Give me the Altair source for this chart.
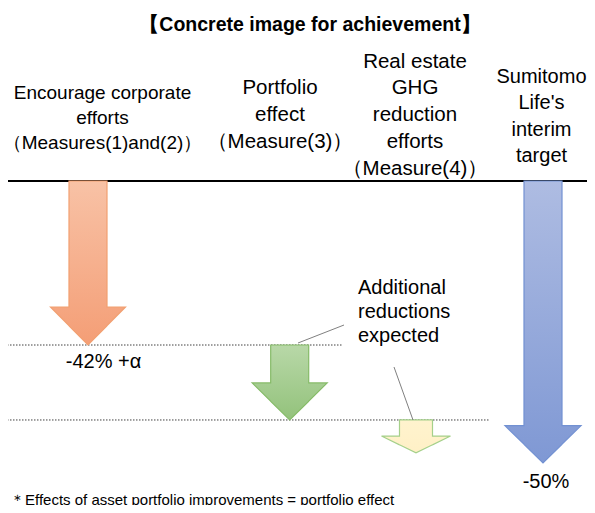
import altair as alt
import pandas as pd

# ---------------- data ----------------
title_text = "【Concrete image for achievement】"
header_lines = [
    ["Encourage corporate", "efforts", "（Measures(1)and(2)）"],
    ["Portfolio", "effect", "（Measure(3)）"],
    ["Real estate", "GHG", "reduction", "efforts", "（Measure(4)）"],
    ["Sumitomo", "Life's", "interim", "target"],
]
# arrow start / end levels (reduction, diagram units; the original is not drawn to scale)
arrow_start = [0, -42, -61.2, 0]
arrow_end = [-42, -61.2, -69.6, -72.2]
value_labels = ["-42% +α", "-50%"]
reference_levels = [-42, -61.2]
callout_lines_text = ["Additional", "reductions", "expected"]
footnote = "＊Effects of asset portfolio improvements = portfolio effect"

# ---------------- layout / style ----------------
W, H = 579, 497
PX_PER_UNIT = 164 / 42
Y_DOMAIN = [-(H - 173) / PX_PER_UNIT, 173 / PX_PER_UNIT]
FONT = "Liberation Sans"
EPS = 0.01

arrow_cx = [80, 281.7, 408, 535]
arrow_shaft_half = [19, 19, 16.5, 19]
arrow_head_half = [37.5, 37.5, 34.5, 38]
arrow_head_px = [38, 37, 16.7, 37.3]
arrow_fill = [("#F8C2A6", "#F49E76"), ("#B8D8A8", "#93C27B"),
              ("#FFF3CE", "#FFF0C6"), ("#AEBCE2", "#7F98D4")]
arrow_stroke = ["#F2A071", "#86BB68", "#A5D08A", "#7291D2"]

header_x = [94.5, 272, 407, 533.5]
header_top = [85.3, 80.3, 53.7, 68.7]
header_step = [24.7, 26.7, 26.7, 26.5]
header_size = [19, 20.5, 20.5, 20]

value_label_pos = [(95.5, 353.7), (538, 473.7)]
ref_line_x = [(-1, 335), (-1, 481)]
callout_segments = [(290, 335, 336, 317), (386, 359, 405, 412)]
callout_x, callout_y0, callout_step = 350, 280.3, 23.7

xscale = alt.Scale(domain=[0, W], nice=False, zero=False)
yscale = alt.Scale(domain=Y_DOMAIN, nice=False, zero=False)

layers = []

# top base line
base_df = pd.DataFrame({"x0": [-1], "x1": [W + 10], "lvl": [0]})
layers.append(
    alt.Chart(base_df).mark_rule(color="#000000", strokeWidth=2.2).encode(
        x=alt.X("x0:Q", scale=xscale, axis=None), x2="x1:Q",
        y=alt.Y("lvl:Q", scale=yscale, axis=None),
    )
)

# dotted reference lines
ref_df = pd.DataFrame({
    "x0": [a for a, b in ref_line_x],
    "x1": [b for a, b in ref_line_x],
    "lvl": reference_levels,
})
layers.append(
    alt.Chart(ref_df).mark_rule(color="#404040", strokeWidth=1, strokeDash=[1.5, 1.5]).encode(
        x=alt.X("x0:Q", scale=xscale, axis=None), x2="x1:Q",
        y=alt.Y("lvl:Q", scale=yscale, axis=None),
    )
)

# arrows (one filled area per arrow: head flanks + shaft, outlined)
for i in range(4):
    cx = arrow_cx[i]
    s = arrow_shaft_half[i]
    h = arrow_head_half[i]
    st = arrow_start[i]
    en = arrow_end[i]
    ht = en + arrow_head_px[i] / PX_PER_UNIT
    b = ht + (en - ht) * (h - s) / h
    rows = [
        (cx - h, ht, ht),
        (cx - s - EPS, ht, b),
        (cx - s, st, b),
        (cx, st, en),
        (cx + s, st, b),
        (cx + s + EPS, ht, b),
        (cx + h, ht, ht),
    ]
    df = pd.DataFrame(rows, columns=["x", "top", "bot"])
    grad = alt.Gradient(
        gradient="linear",
        stops=[alt.GradientStop(color=arrow_fill[i][0], offset=0),
               alt.GradientStop(color=arrow_fill[i][1], offset=1)],
        x1=0, x2=0, y1=0, y2=1,
    )
    layers.append(
        alt.Chart(df).mark_area(
            fill=grad, stroke=arrow_stroke[i], strokeWidth=1.2, interpolate="linear",
            orient="vertical",
        ).encode(
            x=alt.X("x:Q", scale=xscale, axis=None),
            y=alt.Y("top:Q", scale=yscale, axis=None),
            y2="bot:Q",
        )
    )

# callout connector lines
seg_df = pd.DataFrame(callout_segments, columns=["x0", "y0", "x1", "y1"])
layers.append(
    alt.Chart(seg_df).mark_rule(color="#808080", strokeWidth=1).encode(
        x=alt.X("x0:Q", scale=xscale, axis=None), y=alt.Y("y0:Q", scale=None),
        x2="x1:Q", y2="y1:Q",
    )
)

# ---------------- texts ----------------
rows = []
for i, lines in enumerate(header_lines):
    for j, t in enumerate(lines):
        rows.append({"t": t, "x": header_x[i], "y": header_top[i] + j * header_step[i],
                     "s": header_size[i]})
for (x, y), t in zip(value_label_pos, value_labels):
    rows.append({"t": t, "x": x, "y": y, "s": 20})
center_df = pd.DataFrame(rows)
layers.append(
    alt.Chart(center_df).mark_text(font=FONT, align="center", baseline="middle", color="#000000").encode(
        x=alt.X("x:Q", scale=xscale, axis=None), y=alt.Y("y:Q", scale=None),
        text="t:N", size=alt.Size("s:Q", scale=None, legend=None),
    )
)

callout_df = pd.DataFrame({
    "t": callout_lines_text,
    "x": [callout_x] * len(callout_lines_text),
    "y": [callout_y0 + k * callout_step for k in range(len(callout_lines_text))],
})
layers.append(
    alt.Chart(callout_df).mark_text(font=FONT, align="left", baseline="middle", fontSize=20, color="#000000").encode(
        x=alt.X("x:Q", scale=xscale, axis=None), y=alt.Y("y:Q", scale=None), text="t:N",
    )
)

title_df = pd.DataFrame({"t": [title_text], "x": [302], "y": [16.5]})
layers.append(
    alt.Chart(title_df).mark_text(font=FONT, fontWeight="bold", align="center", baseline="middle",
                                  fontSize=19.5, color="#000000").encode(
        x=alt.X("x:Q", scale=xscale, axis=None), y=alt.Y("y:Q", scale=None), text="t:N",
    )
)

foot_df = pd.DataFrame({"t": [footnote], "x": [2], "y": [H]})
layers.append(
    alt.Chart(foot_df).mark_text(font=FONT, align="left", baseline="alphabetic",
                                 fontSize=15, color="#000000").encode(
        x=alt.X("x:Q", scale=xscale, axis=None), y=alt.Y("y:Q", scale=None), text="t:N",
    )
)

chart = alt.layer(*layers).properties(
    width=W, height=H, padding=0, autosize=alt.AutoSizeParams(type="none")
).configure_view(stroke=None)

chart.save("out.html", embed_options={"renderer": "svg", "actions": False})
